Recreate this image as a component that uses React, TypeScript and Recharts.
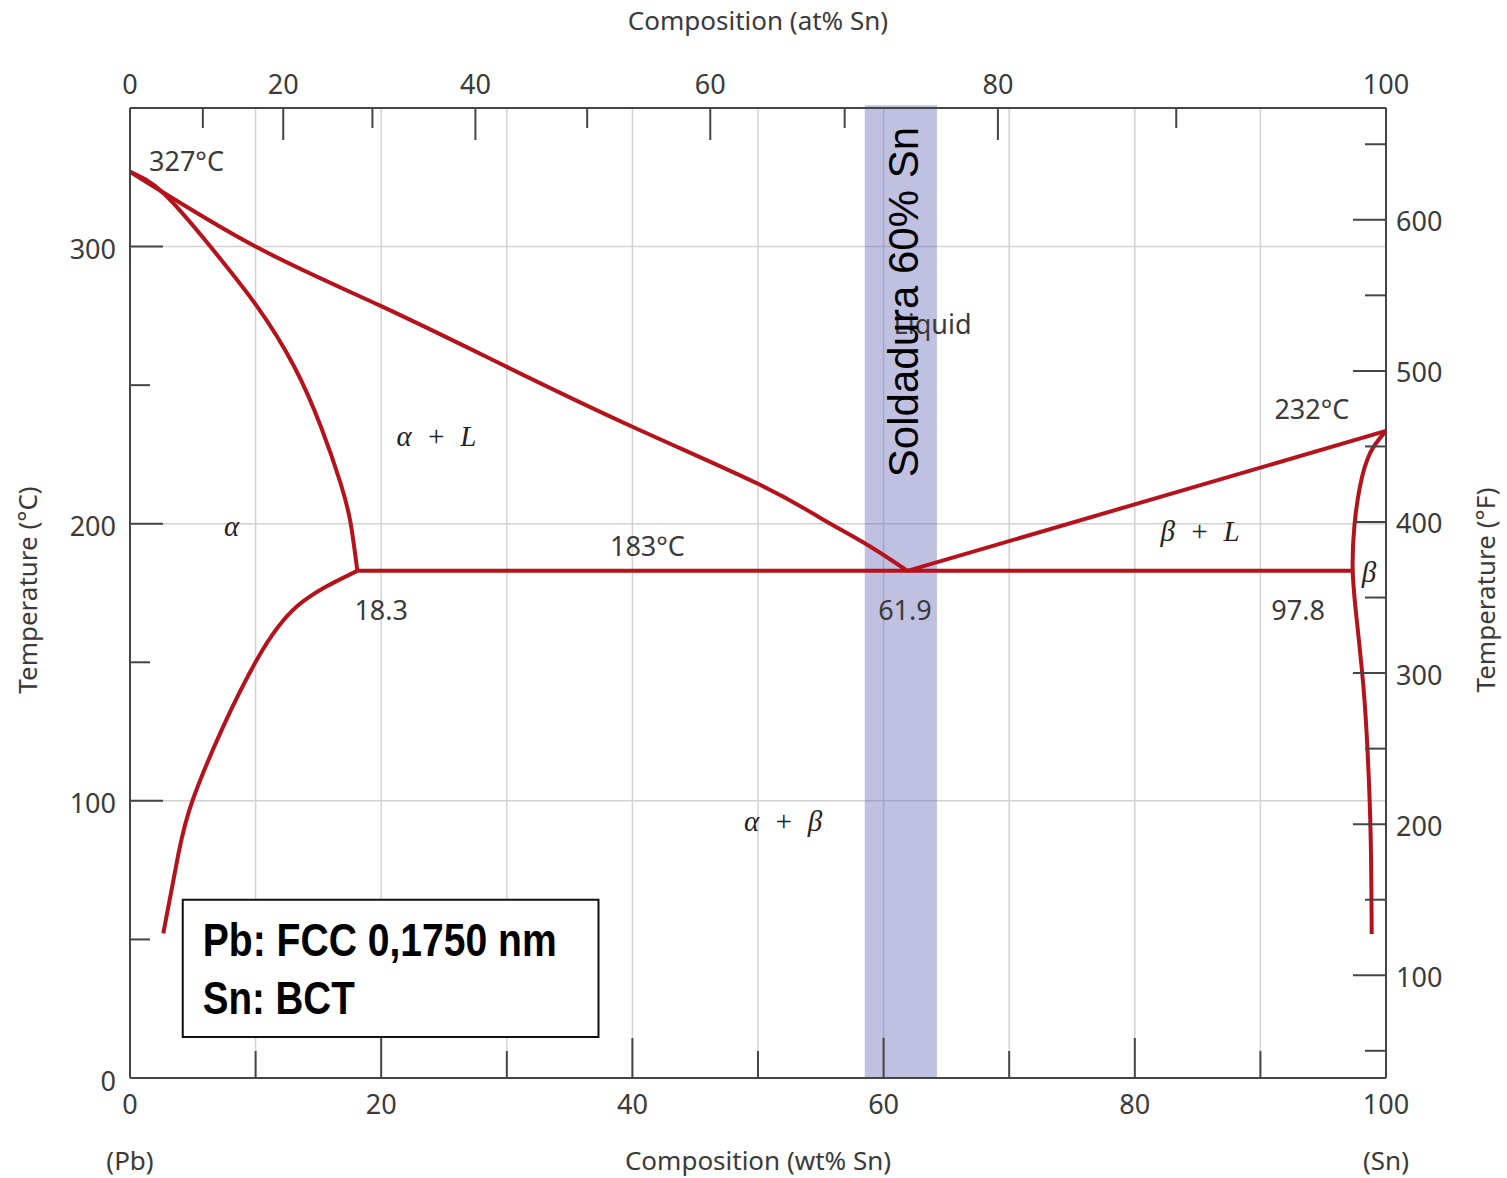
import React from 'react';
import {
  ComposedChart,
  Line,
  XAxis,
  YAxis,
  CartesianGrid,
  ReferenceArea,
  ReferenceDot,
} from 'recharts';

const RED = '#b5121b';
const INK = '#3a3a3a';
const AXIS = '#454545';
const SANS = "'Noto Sans', 'DejaVu Sans', sans-serif";
const SERIF = "'Liberation Serif', 'DejaVu Serif', serif";

// phase boundaries, wt% Sn (w) vs temperature °C (t)
const liquidusPb = [
  { w: 0, t: 327 }, { w: 10, t: 300 }, { w: 20, t: 278.5 },
  { w: 30, t: 256.6 }, { w: 40, t: 235 }, { w: 50, t: 214.4 }, { w: 55, t: 202 },
  { w: 58.6, t: 192.7 }, { w: 61.9, t: 183 },
];
const solidusAlpha = [
  { w: 0, t: 327 }, { w: 2.65, t: 319.3 }, { w: 6.4, t: 300 }, { w: 10.1, t: 278.5 },
  { w: 13.06, t: 256.8 }, { w: 15.2, t: 235 }, { w: 16.76, t: 214.7 }, { w: 17.56, t: 200.3 },
  { w: 18.1, t: 183 },
];
const solvusAlpha = [
  { w: 2.65, t: 52.2 }, { w: 3.85, t: 80.8 }, { w: 5, t: 100.4 }, { w: 7.4, t: 126.6 },
  { w: 10.1, t: 150.9 }, { w: 13.3, t: 170.2 }, { w: 18.1, t: 183 },
];
const liquidusSn = [{ w: 61.9, t: 183 }, { w: 100, t: 233.5 }];
const eutectic = [{ w: 18.1, t: 183 }, { w: 97.35, t: 183 }];
const betaBoundary = [
  { w: 100, t: 233.5 }, { w: 98.73, t: 225.5 }, { w: 97.93, t: 213.5 }, { w: 97.48, t: 199 },
  { w: 97.35, t: 183 }, { w: 97.67, t: 165.3 }, { w: 98.2, t: 141.3 }, { w: 98.54, t: 117.2 },
  { w: 98.78, t: 87.1 }, { w: 98.86, t: 52 },
];

// axes
const wtTicks = [0, 10, 20, 30, 40, 50, 60, 70, 80, 90, 100];
const atTickPos = [0, 5.8, 12.2, 19.3, 27.5, 36.4, 46.2, 56.9, 69.1, 83.3, 100];
const atTickLabels = ['0', '', '20', '', '40', '', '60', '', '80', '', '100'];
const celsiusTicks = [0, 50, 100, 150, 200, 250, 300];
const fahrenheitTicks = [50, 100, 150, 200, 250, 300, 350, 400, 450, 500, 550, 600, 650];
const gridWt = [10, 20, 30, 40, 50, 60, 70, 80, 90];
const gridC = [100, 200, 300];

// solder band (wt% Sn)
const solderBand = [58.5, 64.25];

const notes = [
  { text: '327°C', w: 4.5, t: 331, kind: 'num' },
  { text: '232°C', w: 94.1, t: 241.5, kind: 'num' },
  { text: '183°C', w: 41.2, t: 192, kind: 'num' },
  { text: '18.3', w: 20, t: 169.2, kind: 'num' },
  { text: '61.9', w: 61.7, t: 169.2, kind: 'num' },
  { text: '97.8', w: 93, t: 169.2, kind: 'num' },
  { text: 'Liquid', w: 63.9, t: 272.2, kind: 'num' },
  { text: 'α  +  L', w: 24.4, t: 231.8, kind: 'greek' },
  { text: 'α', w: 8.1, t: 199.3, kind: 'greek' },
  { text: 'β  +  L', w: 85.2, t: 197.5, kind: 'greek' },
  { text: 'β', w: 98.65, t: 182.7, kind: 'greek' },
  { text: 'α  +  β', w: 52, t: 92.8, kind: 'greek' },
];

const BottomTick = (p: any) => {
  const v = p.payload.value;
  const major = v % 20 === 0;
  return (
    <g>
      {v > 0 && v < 100 && (
        <line x1={p.x} x2={p.x} y1={p.y} y2={p.y - (major ? 40 : 27)} stroke={AXIS} strokeWidth={2} />
      )}
      {major && (
        <text x={p.x} y={p.y + 25} textAnchor="middle" dominantBaseline="central" fill={INK} fontSize={27} fontFamily={SANS}>
          {v}
        </text>
      )}
    </g>
  );
};

const TopTick = (p: any) => {
  const i = atTickPos.indexOf(p.payload.value);
  const label = atTickLabels[i];
  const major = label !== '';
  const edge = i === 0 || i === atTickPos.length - 1;
  return (
    <g>
      {!edge && (
        <line x1={p.x} x2={p.x} y1={p.y} y2={p.y + (major ? 32 : 20)} stroke={AXIS} strokeWidth={2} />
      )}
      {major && (
        <text x={p.x} y={p.y - 25} textAnchor="middle" dominantBaseline="central" fill={INK} fontSize={27} fontFamily={SANS}>
          {label}
        </text>
      )}
    </g>
  );
};

const LeftTick = (p: any) => {
  const v = p.payload.value;
  const major = v % 100 === 0;
  return (
    <g>
      {v > 0 && (
        <line x1={p.x} x2={p.x + (major ? 33 : 20)} y1={p.y} y2={p.y} stroke={AXIS} strokeWidth={2} />
      )}
      {major && (
        <text x={p.x - 14} y={p.y + 2} textAnchor="end" dominantBaseline="central" fill={INK} fontSize={27} fontFamily={SANS}>
          {v}
        </text>
      )}
    </g>
  );
};

const RightTick = (p: any) => {
  const v = p.payload.value;
  const major = v % 100 === 0;
  return (
    <g>
      <line x1={p.x} x2={p.x - (major ? 33 : 21)} y1={p.y} y2={p.y} stroke={AXIS} strokeWidth={2} />
      {major && (
        <text x={p.x + 10} y={p.y + 1} textAnchor="start" dominantBaseline="central" fill={INK} fontSize={27} fontFamily={SANS}>
          {v}
        </text>
      )}
    </g>
  );
};

const noteContent = (n: any) => (props: any) => {
  const vb = props.viewBox;
  const cx = vb.x + vb.width / 2;
  const cy = vb.y + vb.height / 2;
  const greek = n.kind === 'greek';
  return (
    <text
      x={cx}
      y={cy}
      textAnchor="middle"
      dominantBaseline="central"
      fill={greek ? '#222' : INK}
      fontSize={greek ? 29 : 27}
      fontStyle={greek ? 'italic' : 'normal'}
      fontFamily={greek ? SERIF : SANS}
      style={{ whiteSpace: 'pre' }}
    >
      {n.text}
    </text>
  );
};

const solderText = (props: any) => {
  const vb = props.viewBox;
  const x = vb.x + vb.width / 2;
  const y = vb.y + vb.height / 2;
  return (
    <text
      x={x}
      y={y}
      transform={`rotate(-90, ${x}, ${y})`}
      textAnchor="middle"
      fill="#000"
      fontSize={42}
      fontFamily="'Liberation Sans', Arial, sans-serif"
    >
      Soldadura 60% Sn
    </text>
  );
};

const boxText = (props: any) => {
  const vb = props.viewBox;
  const common = {
    fill: '#000',
    fontSize: 46,
    fontWeight: 700,
    fontFamily: "'Liberation Sans Narrow', 'Liberation Sans', Arial, sans-serif",
    lengthAdjust: 'spacingAndGlyphs' as const,
  };
  return (
    <g>
      <text x={vb.x + 20} y={vb.y + 56} textLength={354} {...common}>Pb: FCC 0,1750 nm</text>
      <text x={vb.x + 20} y={vb.y + 114} textLength={152} {...common}>Sn: BCT</text>
    </g>
  );
};

const title = (text: string) => ({ fill: INK, fontSize: 26, fontFamily: SANS, textAnchor: 'middle' as const, dominantBaseline: 'central' as const, children: text });

const curveProps = {
  xAxisId: 'b',
  yAxisId: 'C',
  dataKey: 't',
  stroke: RED,
  strokeWidth: 4,
  dot: false,
  activeDot: false,
  isAnimationActive: false,
};

export default function App() {
  return (
    <div style={{ position: 'absolute', left: 0, top: 0, width: 1507, height: 1178, background: '#fff' }}>
      <ComposedChart width={1507} height={1178} margin={{ top: 0, right: 0, bottom: 0, left: 0 }}>
        <CartesianGrid
          xAxisId="b"
          yAxisId="C"
          stroke="#d2d2d2"
          strokeWidth={1.5}
          verticalValues={gridWt}
          horizontalValues={gridC}
        />
        <XAxis
          xAxisId="b"
          dataKey="w"
          type="number"
          orientation="bottom"
          domain={[0, 100]}
          ticks={wtTicks}
          interval={0}
          height={100}
          tickSize={0}
          tickMargin={0}
          tickLine={false}
          axisLine={{ stroke: AXIS, strokeWidth: 2 }}
          tick={BottomTick}
          label={{
            content: (p: any) => {
              const vb = p.viewBox;
              return (
                <g>
                  <text x={vb.x + vb.width / 2} y={vb.y + 82} {...title('Composition (wt% Sn)')} />
                  <text x={vb.x} y={vb.y + 82} {...title('(Pb)')} />
                  <text x={vb.x + vb.width} y={vb.y + 82} {...title('(Sn)')} />
                </g>
              );
            },
          }}
        />
        <XAxis
          xAxisId="a"
          dataKey="w"
          type="number"
          orientation="top"
          domain={[0, 100]}
          ticks={atTickPos}
          interval={0}
          height={108}
          tickSize={0}
          tickMargin={0}
          tickLine={false}
          axisLine={{ stroke: AXIS, strokeWidth: 2 }}
          tick={TopTick}
          label={{
            content: (p: any) => {
              const vb = p.viewBox;
              return <text x={vb.x + vb.width / 2} y={vb.y + 20} {...title('Composition (at% Sn)')} />;
            },
          }}
        />
        <YAxis
          yAxisId="C"
          type="number"
          orientation="left"
          domain={[0, 350]}
          ticks={celsiusTicks}
          interval={0}
          width={130}
          tickSize={0}
          tickMargin={0}
          tickLine={false}
          axisLine={{ stroke: AXIS, strokeWidth: 2 }}
          tick={LeftTick}
          label={{
            content: (p: any) => {
              const vb = p.viewBox;
              const x = vb.x + 27;
              const y = vb.y + vb.height / 2 - 3;
              return <text x={x} y={y} transform={`rotate(-90, ${x}, ${y})`} {...title('Temperature (°C)')} />;
            },
          }}
        />
        <YAxis
          yAxisId="F"
          type="number"
          orientation="right"
          domain={[32, 674]}
          ticks={fahrenheitTicks}
          interval={0}
          width={121}
          tickSize={0}
          tickMargin={0}
          tickLine={false}
          axisLine={{ stroke: AXIS, strokeWidth: 2 }}
          tick={RightTick}
          label={{
            content: (p: any) => {
              const vb = p.viewBox;
              const x = vb.x + 99;
              const y = vb.y + vb.height / 2 - 3;
              return <text x={x} y={y} transform={`rotate(-90, ${x}, ${y})`} {...title('Temperature (°F)')} />;
            },
          }}
        />

        {/* invisible series so the secondary scales (at% and °F) get built */}
        <Line {...curveProps} xAxisId="a" data={liquidusPb} stroke="none" />
        <Line {...curveProps} yAxisId="F" data={liquidusPb} stroke="none" />

        {notes.map((n) => (
          <ReferenceDot
            key={n.text + n.w}
            xAxisId="b"
            yAxisId="C"
            x={n.w}
            y={n.t}
            r={0}
            fill="none"
            stroke="none"
            ifOverflow="visible"
            label={{ content: noteContent(n) }}
          />
        ))}

        <Line {...curveProps} data={liquidusPb} type="natural" />
        <Line {...curveProps} data={solidusAlpha} type="natural" />
        <Line {...curveProps} data={solvusAlpha} type="natural" />
        <Line {...curveProps} data={liquidusSn} type="linear" />
        <Line {...curveProps} data={eutectic} type="linear" />
        <Line {...curveProps} data={betaBoundary} type="natural" />

        <ReferenceArea
          xAxisId="b"
          yAxisId="C"
          x1={solderBand[0]}
          x2={solderBand[1]}
          y1={0}
          y2={351}
          fill="#6262b1"
          fillOpacity={0.4}
          stroke="none"
          ifOverflow="visible"
        />
        <ReferenceDot
          xAxisId="b"
          yAxisId="C"
          x={62.74}
          y={280}
          r={0}
          fill="none"
          stroke="none"
          label={{ content: solderText }}
        />
        <ReferenceArea
          xAxisId="b"
          yAxisId="C"
          x1={4.2}
          x2={37.3}
          y1={14.8}
          y2={64.3}
          fill="#fff"
          fillOpacity={1}
          stroke="#111"
          strokeWidth={2}
          label={{ content: boxText }}
        />
      </ComposedChart>
    </div>
  );
}
